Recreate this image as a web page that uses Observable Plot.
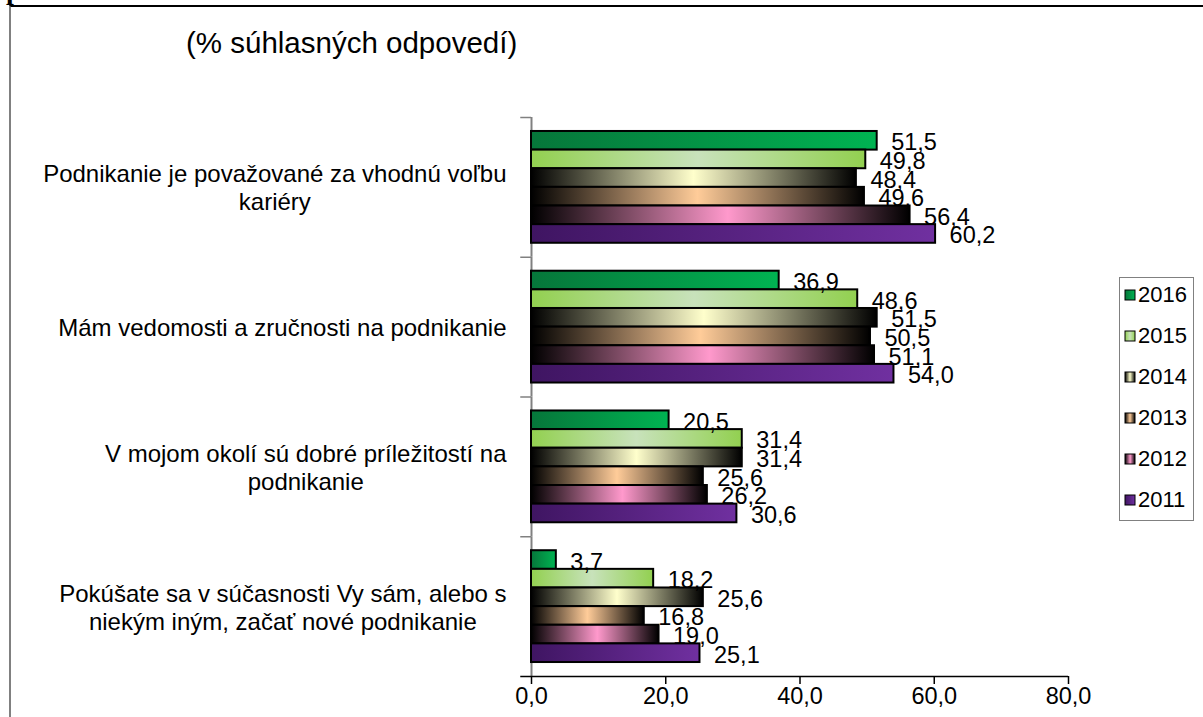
<!DOCTYPE html>
<html><head><meta charset="utf-8">
<script src="https://cdn.jsdelivr.net/npm/d3@7"></script>
<script src="https://cdn.jsdelivr.net/npm/@observablehq/plot@0.6"></script>
<style>
body{margin:0;background:#fff;font-family:"Liberation Sans",Arial,sans-serif;}
#wrap{position:relative;width:1203px;height:717px;overflow:hidden;background:#fff;}
#frame{position:absolute;left:9px;top:5px;width:1300px;height:800px;border-top:2px solid #000;border-left:2px solid #808080;}
#p{position:absolute;left:6px;top:-24px;font:bold 28px "Liberation Serif",serif;line-height:1;}
#title{position:absolute;left:186px;top:27px;font-size:29.5px;line-height:1.1;white-space:nowrap;}
#legend{position:absolute;left:1119px;top:277px;width:75px;height:244px;border:1px solid #808080;box-sizing:border-box;}
.li{position:absolute;left:4px;height:24px;display:flex;align-items:center;font-size:22px;}
.li svg{margin-right:2px;}
#chart{position:absolute;left:0;top:0;}
</style></head>
<body>
<svg width="0" height="0" style="position:absolute">
<defs id="defs"></defs>
</svg>
<div id="wrap">
  <div id="frame"></div>
  <div id="p">p</div>
  <div id="title">(% súhlasných odpovedí)</div>
  <div id="chart"></div>
  <div id="legend"></div>
</div>
<script>
// ---- data ----
const categories = [
  "Podnikanie je považované za vhodnú voľbu kariéry",
  "Mám vedomosti a zručnosti na podnikanie",
  "V mojom okolí sú dobré príležitostí na podnikanie",
  "Pokúšate sa v súčasnosti Vy sám, alebo s niekým iným, začať nové podnikanie"
];
const categoryLines = [
  "Podnikanie je považované za vhodnú voľbu\nkariéry",
  "Mám vedomosti a zručnosti na podnikanie",
  "V mojom okolí sú dobré príležitostí na\npodnikanie",
  "Pokúšate sa v súčasnosti Vy sám, alebo s\nniekým iným, začať nové podnikanie"
];
const years = ["2016", "2015", "2014", "2013", "2012", "2011"];
const v2016 = [51.5, 36.9, 20.5, 3.7];
const v2015 = [49.8, 48.6, 31.4, 18.2];
const v2014 = [48.4, 51.5, 31.4, 25.6];
const v2013 = [49.6, 50.5, 25.6, 16.8];
const v2012 = [56.4, 51.1, 26.2, 19.0];
const v2011 = [60.2, 54.0, 30.6, 25.1];
const xTicks = [0, 20, 40, 60, 80];

// ---- styles (gradients) ----
const gradientStops = {
  "2016": [[0, "#06763a"], [1, "#00b352"]],
  "2015": [[0, "#92d050"], [0.5, "#c8e2bb"], [1, "#92d050"]],
  "2014": [[0, "#000000"], [0.5, "#ffffcc"], [1, "#000000"]],
  "2013": [[0, "#000000"], [0.5, "#ffcc99"], [1, "#000000"]],
  "2012": [[0, "#000000"], [0.52, "#ff99cc"], [1, "#000000"]],
  "2011": [[0, "#3f1562"], [1, "#7030a0"]]
};
const defs = d3.select("#defs");
for (const y of years) {
  const g = defs.append("linearGradient").attr("id", "g" + y).attr("x1", 0).attr("x2", 1).attr("y1", 0).attr("y2", 0);
  for (const [o, c] of gradientStops[y]) g.append("stop").attr("offset", o).attr("stop-color", c);
}

const series = {"2016": v2016, "2015": v2015, "2014": v2014, "2013": v2013, "2012": v2012, "2011": v2011};
const rows = years.flatMap(y => categories.map((c, i) => ({cat: c, year: y, value: series[y][i]})));
const fmt = d => d.toFixed(1).replace(".", ",");

// measure label blocks so each block is right-aligned near the axis with centered lines (like the original)
const FONT_LABEL = 24;
const ctx = document.createElement("canvas").getContext("2d");
ctx.font = `${FONT_LABEL}px "Liberation Sans", Arial, sans-serif`;
const blockWidth = categoryLines.map(s => d3.max(s.split("\n"), l => ctx.measureText(l).width));

const labelMarks = categories.map((c, i) =>
  Plot.text([{cat: c, label: categoryLines[i]}], {
    fy: "cat", text: "label", frameAnchor: "left", textAnchor: "middle",
    dx: -25 - blockWidth[i] / 2, lineHeight: 1.17, fontSize: FONT_LABEL, fill: "#000"
  })
);

const chart = Plot.plot({
  width: 1203, height: 717,
  marginLeft: 531, marginRight: 135, marginTop: 117, marginBottom: 41,
  style: {fontFamily: '"Liberation Sans", Arial, sans-serif', fontSize: "23px", color: "#000", background: "transparent", overflow: "visible"},
  x: {domain: [0, 80], axis: null},
  y: {domain: years, axis: null, paddingInner: 0, paddingOuter: 0.75, round: false},
  fy: {domain: categories, axis: null, padding: 0, round: false},
  color: {domain: years, range: years.map(y => `url(#g${y})`)},
  marks: [
    Plot.ruleY(categories, {fy: d => d, y: () => "2016", dy: -23.29, x1: -1.6, x2: 0, stroke: "#808080", strokeWidth: 1.5}),
    Plot.ruleX([0], {stroke: "#808080", strokeWidth: 2}),
    Plot.barX(rows, {fy: "cat", y: "year", x: "value", fill: "year", stroke: "#000", strokeWidth: 2}),
    Plot.text(rows, {fy: "cat", y: "year", x: "value", text: d => fmt(d.value), textAnchor: "start", dx: 14, dy: 2, fontSize: 23.5, fill: "#000"}),
    ...labelMarks,
    Plot.ruleY(["2011"], {y: d => d, dy: 23.29, x1: -1.6, x2: 80, stroke: "#000", strokeWidth: 1.5, facetAnchor: "bottom"}),
    Plot.axisX({ticks: xTicks, tickFormat: fmt, tickSize: 8, tickPadding: 3, label: null, fontSize: 23.5, stroke: "#000", strokeWidth: 1.5})
  ]
});
document.getElementById("chart").appendChild(chart);

// legend
const leg = d3.select("#legend");
years.forEach((y, i) => {
  const item = leg.append("div").attr("class", "li").style("top", (5 + i * 41) + "px");
  const s = item.append("svg").attr("width", 12).attr("height", 12);
  s.append("rect").attr("x", 1).attr("y", 1).attr("width", 10).attr("height", 10)
    .attr("fill", `url(#g${y})`).attr("stroke", "#000").attr("stroke-width", 1);
  item.append("span").text(y);
});
</script>
</body></html>
